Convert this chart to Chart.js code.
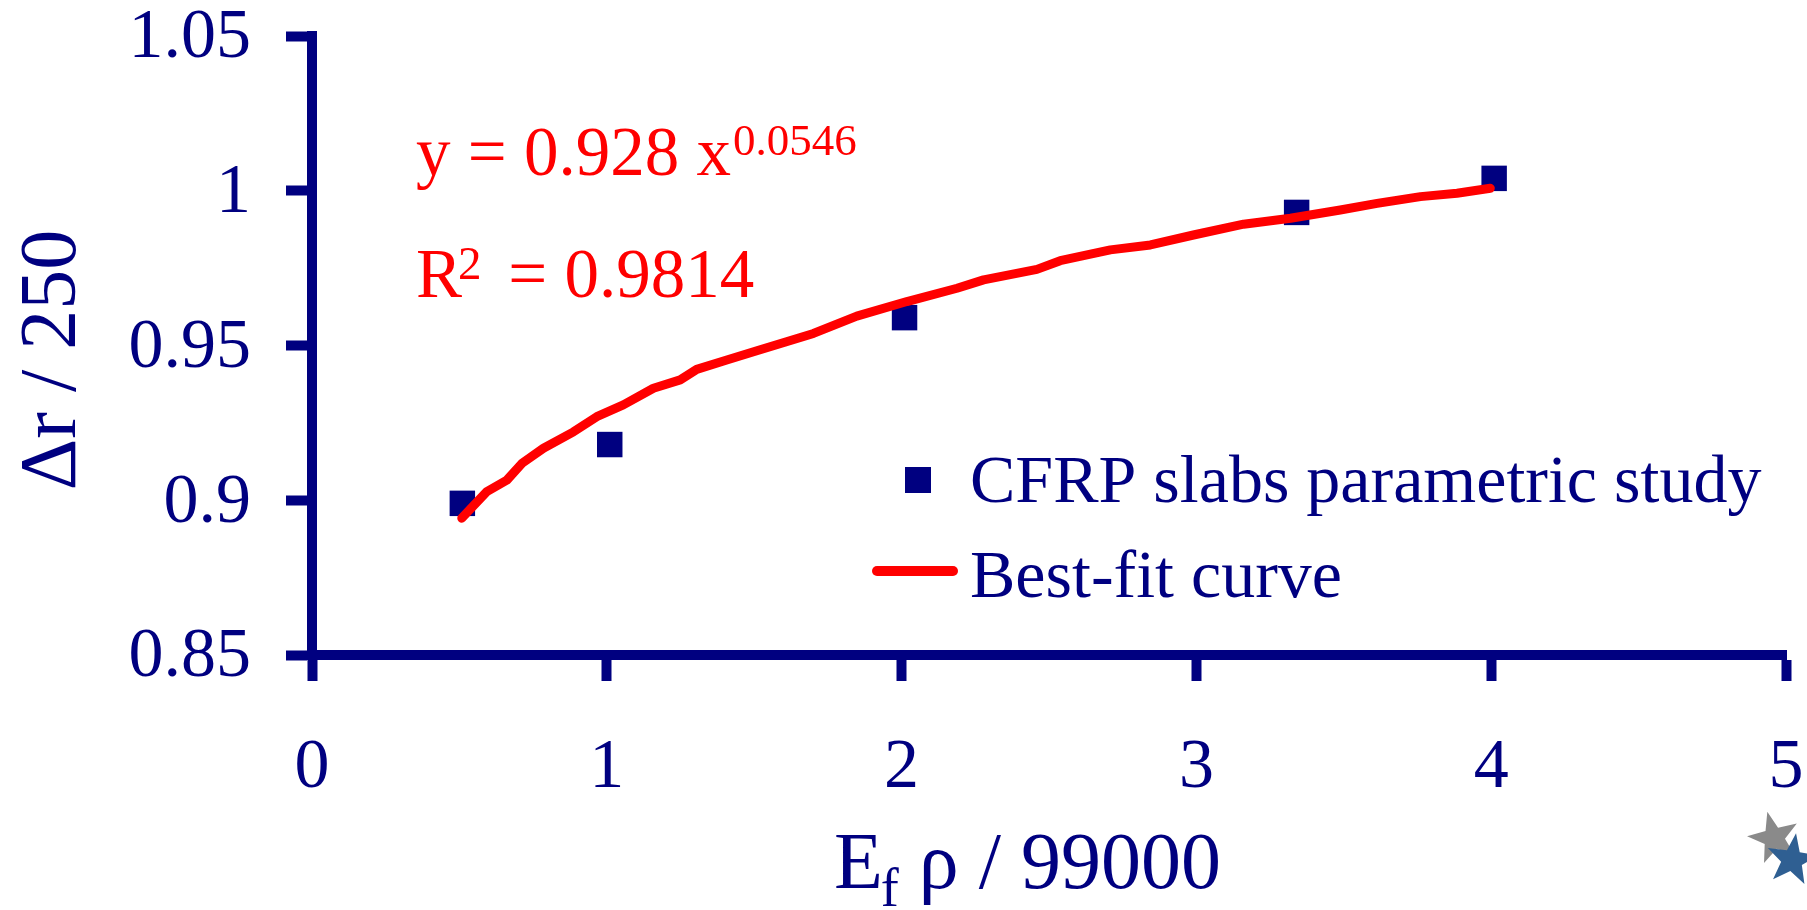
<!DOCTYPE html>
<html>
<head>
<meta charset="utf-8">
<script src="https://cdn.jsdelivr.net/npm/chart.js@4/dist/chart.umd.min.js"></script>
<style>
  html, body { margin: 0; padding: 0; background: #fff; }
  #wrap { width: 1807px; height: 910px; position: relative; }
</style>
</head>
<body>
<div id="wrap"><canvas id="chart"></canvas></div>
<script>
// measured points (parametric study)
const studyX = [0.51, 1.01, 2.01, 3.34, 4.01];
const studyY = [0.899, 0.918, 0.959, 0.993, 1.004];

// best-fit curve
const fitX = [0.508, 0.593, 0.661, 0.712, 0.785, 0.887, 0.966, 1.056, 1.158, 1.249,
              1.305, 1.407, 1.509, 1.701, 1.848, 2.018, 2.188, 2.278, 2.459, 2.538,
              2.708, 2.844, 2.990, 3.160, 3.319, 3.488, 3.613, 3.760, 3.884, 3.997];
const fitY = [0.8942, 0.9028, 0.9065, 0.9119, 0.9168, 0.9221, 0.9270, 0.9308, 0.9362, 0.9389,
              0.9423, 0.9453, 0.9483, 0.9539, 0.9595, 0.9642, 0.9685, 0.9712, 0.9746, 0.9774,
              0.9809, 0.9825, 0.9857, 0.9892, 0.9911, 0.9938, 0.9959, 0.9981, 0.9992, 1.0008];

const xTicks = [0, 1, 2, 3, 4, 5];
const yTicks = [0.85, 0.9, 0.95, 1, 1.05];
const yTickLabels = ['0.85', '0.9', '0.95', '1', '1.05'];

const seriesLabels = ['CFRP slabs parametric study', 'Best-fit curve'];

const NAVY = '#000080';
const RED = '#ff0000';
const SERIF = '"Liberation Serif", "Times New Roman", serif';

// extra drawing: axis titles, fit equation, legend, corner stars
const annotations = {
    id: 'annotations',
    afterDraw(chart) {
        const ctx = chart.ctx;
        ctx.save();

        // y title, rotated
        ctx.fillStyle = NAVY;
        ctx.font = '80px ' + SERIF;
        ctx.save();
        ctx.translate(75, 360);
        ctx.rotate(-Math.PI / 2);
        ctx.textAlign = 'center';
        ctx.textBaseline = 'alphabetic';
        ctx.fillText('\u0394r / 250', 0, 0);
        ctx.restore();

        // x title with subscript
        ctx.textAlign = 'left';
        ctx.textBaseline = 'alphabetic';
        let x = 834;
        ctx.font = '80px ' + SERIF;
        ctx.fillText('E', x, 888);
        x += ctx.measureText('E').width - 2;
        ctx.font = '54px ' + SERIF;
        ctx.fillText('f', x, 906);
        x += ctx.measureText('f').width;
        ctx.font = '80px ' + SERIF;
        ctx.fillText(' \u03c1 / 99000', x, 888);

        // equation
        ctx.fillStyle = RED;
        ctx.font = '69px ' + SERIF;
        ctx.fillText('y = 0.928 x', 416, 175);
        x = 416 + ctx.measureText('y = 0.928 x').width + 2;
        ctx.font = '45px ' + SERIF;
        ctx.fillText('0.0546', x, 155);

        ctx.font = '69px ' + SERIF;
        ctx.fillText('R', 416, 297);
        ctx.font = '47px ' + SERIF;
        ctx.fillText('2', 458, 279);
        ctx.font = '69px ' + SERIF;
        ctx.fillText(' = 0.9814', 491, 297);

        // legend
        const ds = chart.data.datasets;
        ctx.fillStyle = ds[0].backgroundColor;
        ctx.fillRect(905, 467, 26, 26);
        ctx.strokeStyle = ds[1].borderColor;
        ctx.lineWidth = 10;
        ctx.lineCap = 'round';
        ctx.beginPath();
        ctx.moveTo(877, 571);
        ctx.lineTo(953, 571);
        ctx.stroke();
        ctx.fillStyle = NAVY;
        ctx.font = '68px ' + SERIF;
        ctx.fillText(ds[0].label, 970, 502);
        ctx.fillText(ds[1].label, 970, 597);

        // decorative stars in the corner
        drawStar(ctx, 1774, 838, 27, 11, -0.25, '#8a8a8a');
        drawStar(ctx, 1792, 860, 27, 11, 0.15, '#2f5f92');

        ctx.restore();
    }
};

function drawStar(ctx, cx, cy, ro, ri, rot, color) {
    ctx.beginPath();
    for (let i = 0; i < 10; i++) {
        const r = i % 2 === 0 ? ro : ri;
        const a = rot - Math.PI / 2 + i * Math.PI / 5;
        const px = cx + r * Math.cos(a);
        const py = cy + r * Math.sin(a);
        if (i === 0) ctx.moveTo(px, py); else ctx.lineTo(px, py);
    }
    ctx.closePath();
    ctx.fillStyle = color;
    ctx.fill();
}

new Chart(document.getElementById('chart'), {
    type: 'scatter',
    data: {
        datasets: [{
            label: seriesLabels[0],
            data: studyX.map((v, i) => ({ x: v, y: studyY[i] })),
            backgroundColor: NAVY,
            borderColor: NAVY,
            borderWidth: 0,
            pointStyle: 'rect',
            pointRadius: 18,
            order: 1
        }, {
            label: seriesLabels[1],
            data: fitX.map((v, i) => ({ x: v, y: fitY[i] })),
            showLine: true,
            borderColor: RED,
            borderWidth: 9,
            borderCapStyle: 'round',
            borderJoinStyle: 'round',
            pointRadius: 0,
            tension: 0,
            order: 0
        }]
    },
    options: {
        responsive: true,
        maintainAspectRatio: false,
        animation: false,
        layout: { padding: { left: 0, top: 36, right: 21, bottom: 0 } },
        plugins: { legend: { display: false }, tooltip: { enabled: false } },
        scales: {
            x: {
                type: 'linear',
                min: 0, max: 5,
                afterBuildTicks: s => { s.ticks = xTicks.map(v => ({ value: v })); },
                afterFit: s => { s.height = 255; s.paddingLeft = 0; s.paddingRight = 18; },
                border: { display: true, color: NAVY, width: 10 },
                grid: { drawOnChartArea: false, drawTicks: true, tickLength: 26, tickWidth: 10, tickColor: NAVY },
                ticks: {
                    color: NAVY,
                    padding: 53,
                    font: { family: SERIF, size: 70, lineHeight: 1 },
                    callback: v => String(v)
                }
            },
            y: {
                type: 'linear',
                min: 0.85, max: 1.05,
                afterBuildTicks: s => { s.ticks = yTicks.map(v => ({ value: v })); },
                afterFit: s => { s.width = 312; s.paddingTop = 30; s.paddingBottom = 30; },
                border: { display: true, color: NAVY, width: 10 },
                grid: { drawOnChartArea: false, drawTicks: true, tickLength: 26, tickWidth: 10, tickColor: NAVY },
                ticks: {
                    color: NAVY,
                    padding: 35,
                    labelOffset: 3,
                    font: { family: SERIF, size: 70, lineHeight: 1 },
                    callback: (v, i) => yTickLabels[yTicks.indexOf(Math.round(v * 100) / 100)]
                }
            }
        }
    },
    plugins: [annotations]
});
</script>
</body>
</html>
